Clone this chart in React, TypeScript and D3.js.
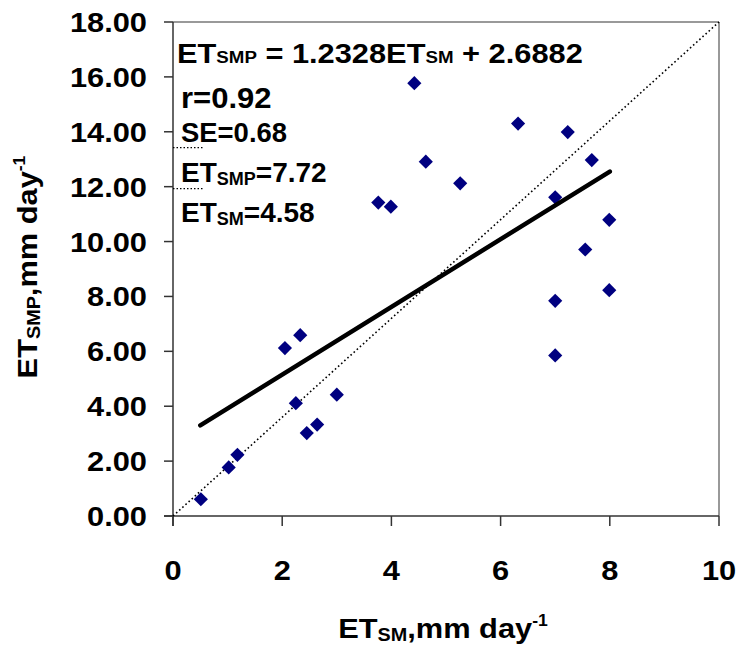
import React from "react";
import * as d3 from "d3";

const etSM = [0.51, 1.02, 1.18, 2.05, 2.33, 2.25, 2.45, 2.64, 3.0, 3.76, 3.99, 4.42, 4.63, 5.26, 6.32, 7.0, 7.23, 7.67, 7.55, 7.99, 7.99, 7.0, 7.0];
const etSMP = [0.61, 1.77, 2.23, 6.12, 6.59, 4.11, 3.02, 3.33, 4.42, 11.42, 11.27, 15.77, 12.91, 12.12, 14.3, 11.61, 13.99, 12.97, 9.71, 10.79, 8.23, 7.84, 5.85];
const xTicks = [0, 2, 4, 6, 8, 10];
const yTicks = [0, 2, 4, 6, 8, 10, 12, 14, 16, 18];
const slope = 1.2328;
const intercept = 2.6882;
const fitRange = [0.5, 8];
const diagonal = [[0, 0], [10, 18]];
const stubLevels = [13.42, 11.93];
const stubRange = [0, 0.55];

const W = 739, H = 653;
const M = { left: 173, right: 719, top: 22, bottom: 516 };
const FONT = "'Liberation Sans', Arial, sans-serif";

export default function App() {
  const x = d3.scaleLinear().domain([0, 10]).range([M.left, M.right]);
  const y = d3.scaleLinear().domain([0, 18]).range([M.bottom, M.top]);
  const line = d3.line<number[]>().x((d) => x(d[0])).y((d) => y(d[1]));
  const fit = fitRange.map((v) => [v, slope * v + intercept]);
  const diamond = d3.symbol().type(d3.symbolDiamond2 ?? d3.symbolSquare).size(128)();
  const txt = { fontFamily: FONT, fontWeight: 700 as const, fill: "#000" };

  return (
    <svg width={W} height={H} style={{ position: "absolute", left: 0, top: 0, background: "#fff" }}>
      {/* frame */}
      <line x1={M.left} x2={M.right} y1={M.top} y2={M.top} stroke="#999" strokeWidth={2} />
      <line x1={M.right} x2={M.right} y1={M.top} y2={M.bottom} stroke="#999" strokeWidth={2} />
      {/* axes */}
      <line x1={M.left - 9} x2={M.right} y1={M.bottom} y2={M.bottom} stroke="#333" strokeWidth={1.5} />
      <line x1={M.left} x2={M.left} y1={M.top} y2={M.bottom + 10} stroke="#333" strokeWidth={1.5} />
      {yTicks.map((t) => (
        <g key={"yt" + t}>
          <line x1={M.left - 9} x2={M.left} y1={y(t)} y2={y(t)} stroke="#333" strokeWidth={1.5} />
          <text transform={`translate(147,${y(t) + 10}) scale(1.1,1)`} textAnchor="end" fontSize={28} {...txt}>
            {t.toFixed(2)}
          </text>
        </g>
      ))}
      {xTicks.map((t) => (
        <g key={"xt" + t}>
          <line x1={x(t)} x2={x(t)} y1={M.bottom} y2={M.bottom + 10} stroke="#333" strokeWidth={1.5} />
          <text transform={`translate(${x(t)},580) scale(1.1,1)`} textAnchor="middle" fontSize={28} {...txt}>
            {t}
          </text>
        </g>
      ))}
      {/* stubs */}
      {stubLevels.map((v) => (
        <line key={"s" + v} x1={x(stubRange[0])} x2={x(stubRange[1])} y1={y(v)} y2={y(v)} stroke="#000" strokeWidth={1.2} strokeDasharray="1.5,2" />
      ))}
      {/* diagonal */}
      <path d={line(diagonal) || ""} fill="none" stroke="#000" strokeWidth={1.6} strokeDasharray="1.6,2.6" />
      {/* points */}
      {etSM.map((v, i) => (
        <path key={"p" + i} d={diamond || ""} transform={`translate(${x(v)},${y(etSMP[i])})`} fill="#000080" />
      ))}
      {/* fit */}
      <path d={line(fit) || ""} fill="none" stroke="#000" strokeWidth={4.5} strokeLinecap="round" />
      {/* annotations */}
      <text transform="translate(177,63) scale(1.1,1)" fontSize={28} {...txt}>
        ET<tspan fontSize={17}>SMP</tspan> = 1.2328ET<tspan fontSize={17}>SM</tspan> + 2.6882
      </text>
      <text transform="translate(181,108) scale(1.07,1)" fontSize={29} {...txt}>r=0.92</text>
      <text transform="translate(181,142) scale(0.98,1)" fontSize={28} {...txt}>SE=0.68</text>
      <text transform="translate(181,182)" fontSize={28} {...txt}>
        ET<tspan fontSize={18} dy={3}>SMP</tspan><tspan dy={-3}>=7.72</tspan>
      </text>
      <text transform="translate(181,222)" fontSize={28} {...txt}>
        ET<tspan fontSize={18} dy={3}>SM</tspan><tspan dy={-3}>=4.58</tspan>
      </text>
      {/* axis titles */}
      <text transform="translate(443,638) scale(1.1,1)" textAnchor="middle" fontSize={28} {...txt}>
        ET<tspan fontSize={18} dy={3}>SM</tspan><tspan dy={-3}>,mm day</tspan><tspan fontSize={16} dy={-12}>-1</tspan>
      </text>
      <text transform="translate(37,267) rotate(-90) scale(1.1,1)" textAnchor="middle" fontSize={28} {...txt}>
        ET<tspan fontSize={18} dy={3}>SMP</tspan><tspan dy={-3}>,mm day</tspan><tspan fontSize={16} dy={-12}>-1</tspan>
      </text>
    </svg>
  );
}
